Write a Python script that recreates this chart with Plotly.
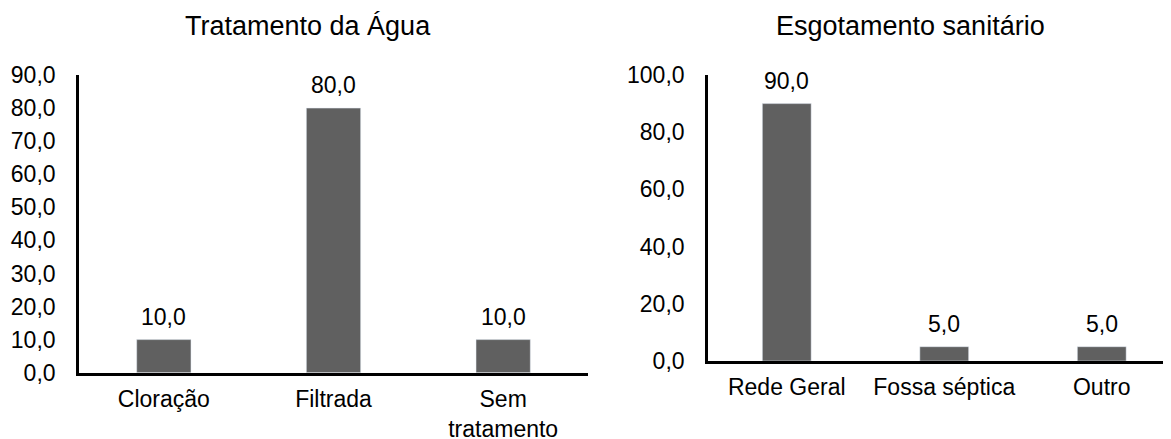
import plotly.graph_objects as go

# Data
agua_categories = ["Cloração", "Filtrada", "Sem<br>tratamento"]
agua_values = [10.0, 80.0, 10.0]
esgoto_categories = ["Rede Geral", "Fossa séptica", "Outro"]
esgoto_values = [90.0, 5.0, 5.0]
agua_ticks = [0, 10, 20, 30, 40, 50, 60, 70, 80, 90]
esgoto_ticks = [0, 20, 40, 60, 80, 100]
title_left = "Tratamento da Água"
title_right = "Esgotamento sanitário"

W, H = 1171, 439
OFF = 8  # page body margin offset
FONT = "Liberation Sans, Arial, sans-serif"
BAR = "#606060"

def fx(px):
    return (px - OFF) / W

def fy(py):
    return 1 - (py - OFF) / H

def fmt(v):
    return f"{v:.1f}".replace(".", ",")

fig = go.Figure()
fig.add_trace(go.Bar(x=agua_categories, y=agua_values, marker_color=BAR,
                     width=0.32, xaxis="x", yaxis="y", showlegend=False))
fig.add_trace(go.Bar(x=esgoto_categories, y=esgoto_values, marker_color=BAR,
                     width=0.31, xaxis="x2", yaxis="y2", showlegend=False))

annotations = []
for c, v in zip(agua_categories, agua_values):
    annotations.append(dict(x=c, y=v, xref="x", yref="y", text=fmt(v), showarrow=False,
                            yanchor="bottom", yshift=8, font=dict(size=23, color="black")))
for c, v in zip(esgoto_categories, esgoto_values):
    annotations.append(dict(x=c, y=v, xref="x2", yref="y2", text=fmt(v), showarrow=False,
                            yanchor="bottom", yshift=8, font=dict(size=23, color="black")))
annotations.append(dict(x=fx(307.5), y=fy(26), xref="paper", yref="paper", text=title_left,
                        showarrow=False, xanchor="center", yanchor="middle",
                        font=dict(size=27, color="black")))
annotations.append(dict(x=fx(910), y=fy(26), xref="paper", yref="paper", text=title_right,
                        showarrow=False, xanchor="center", yanchor="middle",
                        font=dict(size=27, color="black")))

axis_common = dict(showgrid=False, zeroline=False, showline=True, linecolor="black",
                   linewidth=2.6, ticks="", automargin=False,
                   tickfont=dict(size=23, color="black"))

right_px = (W + OFF - 708) / 157.5  # category units spanned by right plot

fig.update_layout(
    width=W, height=H, autosize=False,
    margin=dict(l=0, r=0, t=0, b=0, pad=0, autoexpand=False),
    paper_bgcolor="white", plot_bgcolor="white",
    font=dict(family=FONT, color="black"),
    separators=",.",
    annotations=annotations,
    xaxis=dict(domain=[fx(79), fx(588)], anchor="y", type="category",
               range=[-0.5, 2.5], ticklabelstandoff=4, **axis_common),
    yaxis=dict(domain=[fy(372.7), fy(75)], anchor="x", range=[0, 90],
               tickvals=agua_ticks, tickformat=".1f", ticklabelstandoff=16, **axis_common),
    xaxis2=dict(domain=[fx(708), 1.0], anchor="y2", type="category",
                range=[-0.5, -0.5 + right_px], ticklabelstandoff=4, **axis_common),
    yaxis2=dict(domain=[fy(361), fy(75)], anchor="x2", range=[0, 100],
                tickvals=esgoto_ticks, tickformat=".1f", ticklabelstandoff=16, **axis_common),
)

fig.write_html("out.html")
